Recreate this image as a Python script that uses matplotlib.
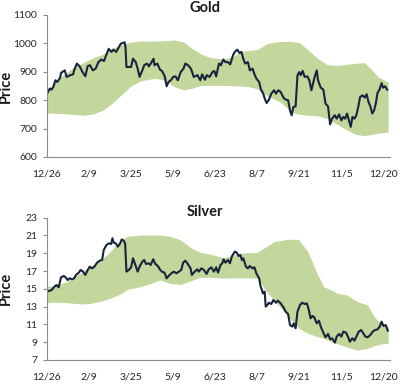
import matplotlib
matplotlib.use("Agg")
import matplotlib.pyplot as plt

plt.rcParams['font.family'] = ['Lato', 'DejaVu Sans']

tick_pos = [0, 45, 90, 135, 180, 225, 270, 315, 360]
tick_labels = ["12/26", "2/9", "3/25", "5/9", "6/23", "8/7", "9/21", "11/5", "12/20"]

# ---- Gold ----
gold_days = [0, 3, 5, 7, 9, 11, 14, 15, 19, 21, 25, 28, 29, 32, 35, 37.5, 41, 43.5, 46, 49,
             52, 55, 58, 61, 64, 66, 69, 71, 74, 77, 79, 83, 84, 85, 87.5, 90, 92, 95, 97, 99,
             102, 104, 107, 109, 111, 114, 115, 118, 121, 123, 126, 128, 130, 133, 135, 137.5,
             140, 143, 146, 148, 151, 154, 157, 161, 164, 166, 169, 171, 174, 177, 179, 181,
             184, 186, 188.6, 191, 193.6, 196, 199, 201, 203.6, 206, 208, 210, 212, 215, 217,
             220, 221.4, 224, 227, 229, 231.4, 233, 235, 237.5, 240, 243, 245, 247.5, 250, 253,
             255.4, 258, 260, 261.8, 263.6, 266, 268, 270, 271.4, 273.6, 275.7, 278.6, 280.7,
             282.9, 285, 286.4, 288.6, 290, 292.9, 295.7, 298, 300.7, 302.9, 305, 307.9, 310,
             312.5, 315, 317, 319, 321, 323, 325, 326.8, 329, 331, 333, 335, 337.5, 340, 342,
             344, 346, 348, 350, 351.8, 353.6, 355.7, 358, 359.6, 361.8, 364]
gold_price = [823, 841, 837, 849, 870, 864, 879, 896, 905, 882, 888, 891, 905, 929, 919, 902, 884, 920, 923, 905,
              911, 934, 943, 938, 964, 981, 970, 978, 970, 987, 999, 1004, 987, 917, 917, 917, 946, 934, 911, 882,
              905, 923, 929, 919, 929, 946, 923, 929, 907, 903, 884, 849, 864, 872, 882, 884,
              870, 899, 911, 929, 923, 911, 882, 888, 870, 891, 872, 888, 882, 899, 903, 884,
              929, 923, 943, 934, 934, 926, 958, 970, 978, 966, 970, 946, 929, 934, 905,
              911, 896, 876, 864, 837, 823, 805, 790, 802, 823, 835, 823, 835, 829, 809,
              802, 800, 764, 747, 776, 778, 888, 899, 888, 903, 882, 884, 870,
              835, 864, 882, 905, 870, 844, 837, 788, 778, 715, 735, 747, 735,
              750, 729, 741, 735, 753, 729, 706, 741, 735, 747, 776, 811, 817, 809, 821,
              794, 778, 753, 764, 788, 825, 837, 860, 844, 849, 837]

gold_band_days = [0, 14, 28, 40, 50, 60, 70, 80, 90, 100, 115, 125, 136, 146, 155, 165, 175, 190,
                  200, 207, 215, 225, 236, 250, 261, 270, 280, 290, 300, 312, 320, 330, 340, 348,
                  355, 365]
gold_upper = [832, 880, 915, 934, 950, 962, 983, 996, 1005, 1008, 1008, 1009, 1012, 1005, 983, 962,
              950, 945, 955, 972, 975, 978, 1000, 1007, 1007, 1003, 975, 946, 925, 922, 926, 930,
              932, 905, 880, 864]
gold_lower = [755, 753, 750, 747, 752, 765, 790, 820, 850, 868, 877, 872, 848, 836, 842, 852,
              852, 852, 851, 850, 848, 840, 815, 793, 760, 750, 747, 745, 735, 712, 697, 680,
              675, 680, 684, 688]

# ---- Silver ----
silver_days = [0, 3, 5, 8, 10, 12.5, 15, 18, 20, 22, 24, 27, 29, 31, 34, 36, 38.6, 41, 43.6, 45.7,
               48, 50.7, 53.6, 56.4, 59, 60.7, 63.6, 66, 68.6, 70, 71.4, 73.6, 75.7, 77.9, 80, 82,
               83.6, 85, 87.5, 90, 92, 94.6, 97, 99, 102, 104, 106, 109, 111, 113.6, 116, 118.6,
               120.7, 123, 125.7, 128, 130, 133, 135.7, 138.6, 141, 143.6, 145.7, 148, 150.7,
               153.6, 155, 158, 160.7, 162.5, 165, 167.9, 170.7, 173, 175.7, 178.6, 181, 183,
               185.7, 187.5, 189, 191, 193.6, 195.7, 198, 201, 203, 205, 206.8, 208.6, 210,
               212.9, 215, 217, 220, 222, 224, 227, 228.6, 230, 231, 232.9, 234, 235.7, 237.5,
               240, 242.1, 245, 247, 250, 253, 255.4, 258, 260, 262.5, 264, 266, 268, 270.7,
               273, 275.7, 278, 280, 282, 284, 286, 288.6, 291, 292.9, 296, 298, 300.7, 303,
               305, 308, 310, 312.5, 315, 317, 320, 322, 324, 326.8, 329, 331, 333.6, 336, 338,
               340.7, 343, 346, 348.6, 351, 353.6, 356, 358, 360, 362.5, 364.6]
silver_price = [14.68, 14.79, 14.87, 15.24, 15.43, 15.17, 16.29, 16.44, 16.29, 15.99, 16.18, 16.07, 16.18,
                16.56, 16.82, 17.12, 16.93, 16.56, 17.12, 17.49, 17.30, 17.49, 17.94, 18.17, 18.24,
                19.37, 19.93, 20.11, 20.04, 20.68, 20.19, 20.11, 19.74, 20.04, 20.56, 20.41, 20.11,
                16.93, 17.12, 17.42, 18.43, 17.68, 16.93, 17.49, 18.05, 18.24, 17.79, 17.87, 17.68,
                18.32, 17.79, 17.57, 17.19, 16.93, 16.82, 16.18, 16.44, 16.74, 16.93, 16.74, 16.93,
                17.12, 17.94, 18.17, 17.79, 17.30, 16.56, 16.93, 17.19, 16.93, 17.30, 17.12, 16.67,
                17.19, 17.42, 16.93, 17.42, 16.82, 17.68, 17.87, 18.32, 17.94, 18.24, 17.87, 18.69,
                19.18, 19.07, 18.69, 18.81, 18.24, 18.43, 17.49, 17.30, 17.57, 17.30, 17.42, 16.74,
                16.18, 15.24, 14.87, 14.49, 14.68, 13.00, 13.18, 13.44, 13.29, 13.74, 13.44, 13.67,
                13.37, 12.92, 12.43, 12.17, 10.93, 10.75, 11.12, 10.56, 12.43, 13.18, 13.44, 13.29,
                13.37, 12.70, 11.68, 11.95, 11.80, 11.12, 11.42, 10.75, 10.00, 9.55, 9.93, 9.32,
                9.44, 8.95, 9.63, 9.93, 9.63, 10.19, 10.07, 9.63, 9.06, 9.44, 9.17, 9.63, 10.19,
                10.37, 10.07, 9.63, 9.55, 9.81, 10.19, 10.37, 10.44, 10.75, 11.31, 10.82, 10.93,
                10.30]

silver_band_days = [0, 7, 21, 36, 46, 57, 68, 79, 86, 100, 111, 121, 132, 143, 154, 164, 175, 189,
                    207, 225, 234, 243, 257, 269, 279, 289, 296, 304, 311, 321, 332, 343, 350, 357,
                    365]
silver_upper = [15.3, 15.3, 15.8, 16.8, 17.5, 18.2, 19.2, 20.5, 20.9, 21.05, 21.05, 21.05, 20.9,
                20.5, 19.6, 19.1, 18.9, 18.5, 19.0, 19.1, 19.7, 20.3, 20.56, 20.56, 19.2, 16.74,
                15.24, 14.87, 14.49, 14.3, 13.56, 13.18, 11.87, 11.12, 10.74]
silver_lower = [13.44, 13.5, 13.45, 13.3, 13.35, 13.6, 13.95, 14.45, 14.94, 15.24, 15.6, 16.0, 15.6,
                15.5, 15.9, 16.29, 16.29, 16.2, 16.25, 16.2, 14.8, 13.74, 12.0, 10.6, 10.0, 9.63,
                9.45, 9.06, 8.8, 8.45, 8.12, 8.31, 8.6, 8.8, 8.87]

GREEN = '#C3D69B'
NAVY = '#17243F'

fig = plt.figure(figsize=(4.0, 3.86), dpi=100)
ax1 = fig.add_axes([0.1175, 0.5933, 0.8575, 0.3679])
ax2 = fig.add_axes([0.1175, 0.0674, 0.8575, 0.3687])

panels = [
    (ax1, "Gold", gold_band_days, gold_lower, gold_upper, gold_days, gold_price,
     (600, 1100), list(range(600, 1101, 100)), 0.979),
    (ax2, "Silver", silver_band_days, silver_lower, silver_upper, silver_days, silver_price,
     (7, 23), list(range(7, 24, 2)), 0.451),
]

for ax, title, bd, lo, up, d, p, ylim, yticks, ty in panels:
    ax.fill_between(bd, lo, up, color=GREEN, linewidth=0)
    ax.plot(d, p, color=NAVY, linewidth=1.5)
    ax.set_xlim(0, 367)
    ax.set_ylim(*ylim)
    ax.set_yticks(yticks)
    ax.set_xticks(tick_pos)
    ax.set_xticklabels(tick_labels)
    for s in ['top', 'right']:
        ax.spines[s].set_visible(False)
    for s in ['left', 'bottom']:
        ax.spines[s].set_color('#8c8c8c')
        ax.spines[s].set_linewidth(0.8)
    ax.tick_params(axis='y', length=3, color='#8c8c8c', labelsize=7.5, labelcolor='#262626', pad=4)
    ax.tick_params(axis='x', length=0, labelsize=7.5, labelcolor='#262626', pad=9)
    ax.set_ylabel("Price", fontsize=10.5, fontweight='bold', color='#1a1a1a', labelpad=4)
    ax.yaxis.set_label_coords(-0.1, 0.5)
    fig.text(0.512, ty, title, ha='center', va='center', fontsize=10.5, fontweight='bold',
             color='#1a1a1a')

fig.savefig("out.png", dpi=100)
